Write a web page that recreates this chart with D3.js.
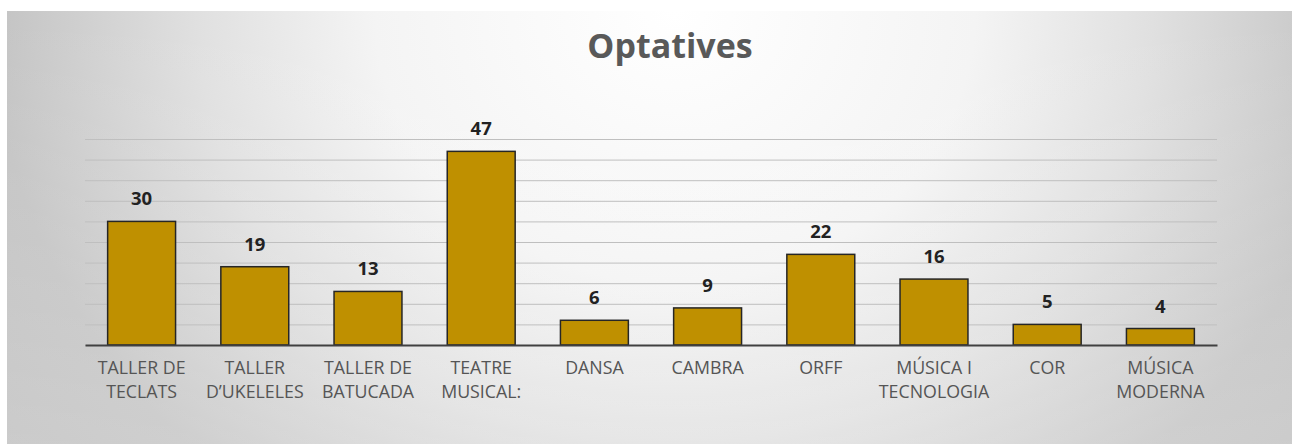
<!DOCTYPE html>
<html>
<head>
<meta charset="utf-8">
<script src="https://cdn.jsdelivr.net/npm/d3@7"></script>
<style>
  html, body { margin: 0; padding: 0; background: #ffffff; }
  svg { display: block; }
</style>
</head>
<body>
<svg id="chart" width="1292" height="444"></svg>
<script>
const title = "Optatives";
const categories = [
  "TALLER DE\nTECLATS",
  "TALLER\nD’UKELELES",
  "TALLER DE\nBATUCADA",
  "TEATRE\nMUSICAL:",
  "DANSA",
  "CAMBRA",
  "ORFF",
  "MÚSICA I\nTECNOLOGIA",
  "COR",
  "MÚSICA\nMODERNA"
];
const values = [30, 19, 13, 47, 6, 9, 22, 16, 5, 4];
const gridTicks = [0, 5, 10, 15, 20, 25, 30, 35, 40, 45, 50];

const svg = d3.select("#chart");
const frame = {x: 7, y: 11, w: 1285, h: 433};
const plot = {left: 85, right: 1217, top: 139, bottom: 345};
const font = "'Open Sans', 'Noto Sans', sans-serif";

const defs = svg.append("defs");
const rg = defs.append("radialGradient")
  .attr("id", "bg")
  .attr("gradientUnits", "userSpaceOnUse")
  .attr("cx", 0).attr("cy", 0).attr("r", 1)
  .attr("gradientTransform", "translate(675,11) scale(" + (683 * 1.3) + "," + (619 * 1.3) + ")");
[[0, "#ffffff"], [0.338, "#f4f4f4"], [0.538, "#e0e0e0"], [0.769, "#c3c3c3"], [1, "#bcbcbc"]]
  .forEach(([o, c]) => rg.append("stop").attr("offset", o).attr("stop-color", c));
const lg = defs.append("linearGradient")
  .attr("id", "fade")
  .attr("x1", 0).attr("y1", 0).attr("x2", 0).attr("y2", 1);
lg.append("stop").attr("offset", 0).attr("stop-color", "#ffffff").attr("stop-opacity", 0);
lg.append("stop").attr("offset", 1).attr("stop-color", "#ffffff").attr("stop-opacity", 0.2);

svg.append("rect").attr("x", frame.x).attr("y", frame.y).attr("width", frame.w).attr("height", frame.h).attr("fill", "url(#bg)");
svg.append("rect").attr("x", frame.x).attr("y", frame.y).attr("width", frame.w).attr("height", frame.h).attr("fill", "url(#fade)");

const x = d3.scaleBand().domain(categories).range([plot.left, plot.right]).paddingInner(0.4).paddingOuter(0.2);
const y = d3.scaleLinear().domain([0, 50]).range([plot.bottom, plot.top]);

// gridlines
const grid = svg.append("g")
  .attr("transform", `translate(${plot.left},0)`)
  .call(d3.axisLeft(y).tickValues(gridTicks).tickSize(-(plot.right - plot.left)).tickFormat(""));
grid.select(".domain").remove();
grid.selectAll(".tick line").attr("stroke", "#bfbfbf").attr("stroke-width", 1);

// bars
svg.append("g").selectAll("rect")
  .data(values)
  .join("rect")
  .attr("x", (d, i) => x(categories[i]))
  .attr("y", d => y(d))
  .attr("width", x.bandwidth())
  .attr("height", d => y(0) - y(d))
  .attr("fill", "#bf9000")
  .attr("stroke", "#262626")
  .attr("stroke-width", 1.5);

// baseline + category labels
const xAxis = svg.append("g")
  .attr("transform", `translate(0,${plot.bottom})`)
  .call(d3.axisBottom(x).tickSize(0).tickFormat(""));
xAxis.select(".domain").attr("stroke", "#404040").attr("stroke-width", 2.2);
xAxis.selectAll(".tick").each(function(d) {
  const t = d3.select(this).append("text")
    .attr("fill", "#555555")
    .attr("font-family", font)
    .attr("font-size", 17.8)
    .attr("text-anchor", "middle");
  d.split("\n").forEach((line, j) => {
    t.append("tspan").attr("x", 0).attr("y", 28.5 + j * 24).text(line);
  });
});

// value labels
svg.append("g").selectAll("text")
  .data(values)
  .join("text")
  .attr("x", (d, i) => x(categories[i]) + x.bandwidth() / 2)
  .attr("y", d => y(d) - 16)
  .attr("text-anchor", "middle")
  .attr("font-family", font)
  .attr("font-weight", "bold")
  .attr("font-size", 18.5)
  .attr("fill", "#222222")
  .text(d => d);

// title
svg.append("text")
  .attr("x", 670).attr("y", 58)
  .attr("text-anchor", "middle")
  .attr("font-family", font)
  .attr("font-weight", "bold")
  .attr("font-size", 34)
  .attr("fill", "#595959")
  .text(title);
</script>
</body>
</html>
